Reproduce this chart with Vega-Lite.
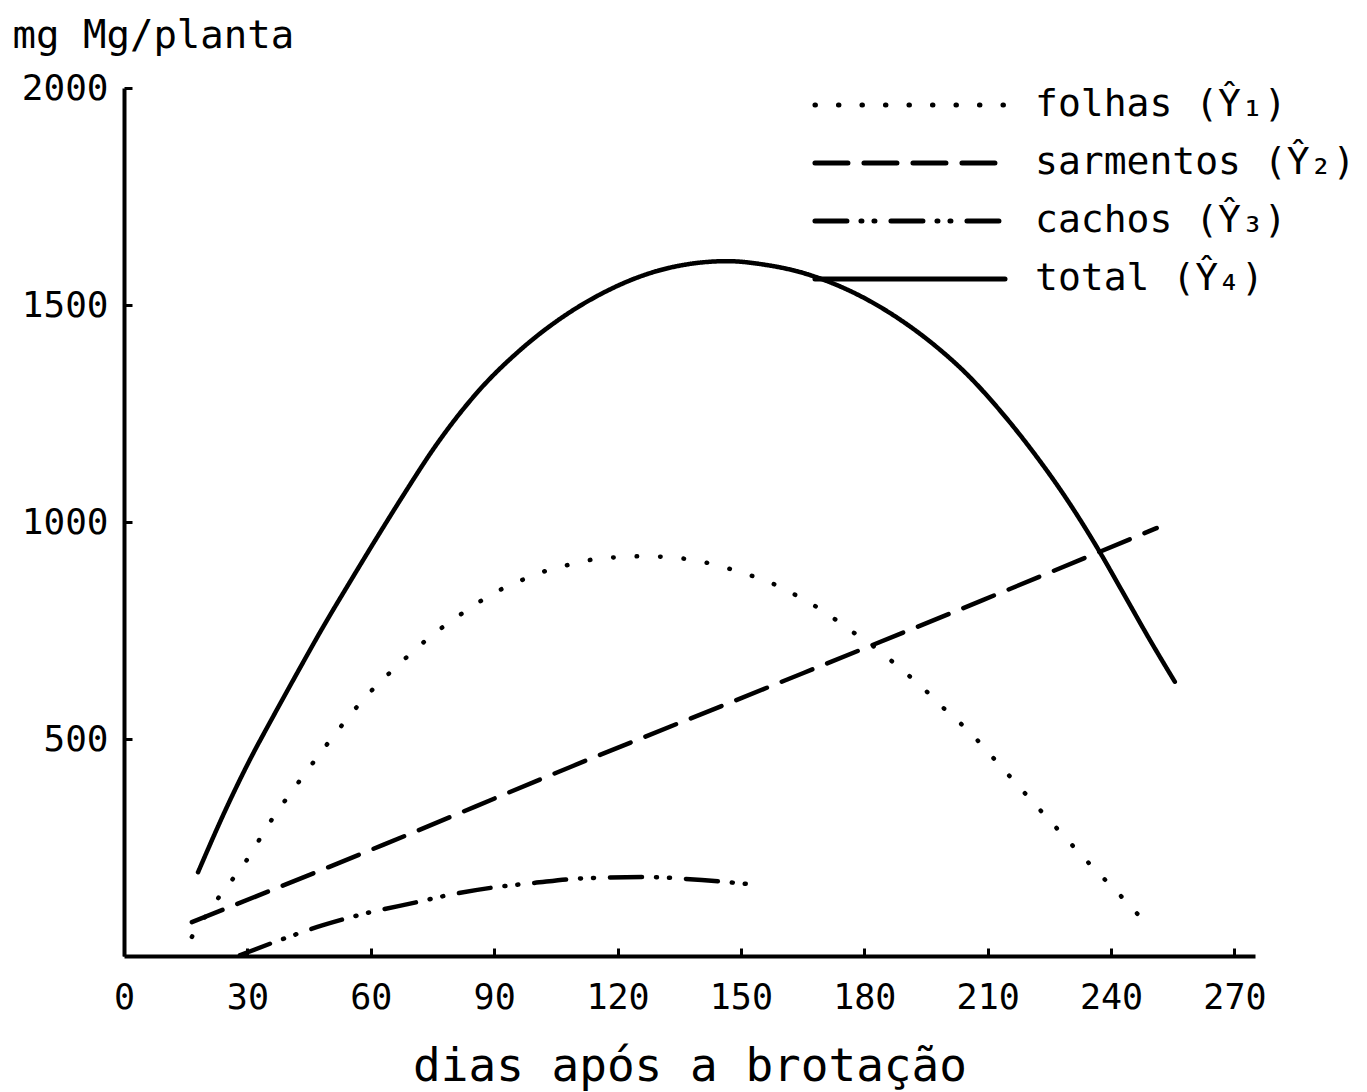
{
  "$schema": "https://vega.github.io/schema/vega-lite/v6.json",
  "width": 1131,
  "height": 868,
  "autosize": {"type": "none"},
  "padding": {"left": 124, "top": 88, "right": 112, "bottom": 136},
  "background": "white",
  "config": {
    "view": {"stroke": null},
    "font": "DejaVu Sans Mono",
    "axis": {
      "grid": false,
      "domainColor": "black",
      "tickColor": "black",
      "labelColor": "black",
      "titleColor": "black",
      "labelFont": "DejaVu Sans Mono",
      "titleFont": "DejaVu Sans Mono",
      "labelFontWeight": "normal",
      "titleFontWeight": "normal",
      "domainWidth": 4,
      "tickWidth": 3
    }
  },
  "data": {
    "values": [
      {"serie": "folhas (Ŷ₁)", "dias": 16.5, "mg": 44},
      {"serie": "folhas (Ŷ₁)", "dias": 23.1, "mg": 136},
      {"serie": "folhas (Ŷ₁)", "dias": 29.7, "mg": 219},
      {"serie": "folhas (Ŷ₁)", "dias": 35.7, "mg": 311},
      {"serie": "folhas (Ŷ₁)", "dias": 42.1, "mg": 396},
      {"serie": "folhas (Ŷ₁)", "dias": 49.8, "mg": 493},
      {"serie": "folhas (Ŷ₁)", "dias": 54.2, "mg": 546},
      {"serie": "folhas (Ŷ₁)", "dias": 58.1, "mg": 590},
      {"serie": "folhas (Ŷ₁)", "dias": 62.0, "mg": 629},
      {"serie": "folhas (Ŷ₁)", "dias": 66.4, "mg": 668},
      {"serie": "folhas (Ŷ₁)", "dias": 71.5, "mg": 712},
      {"serie": "folhas (Ŷ₁)", "dias": 77.8, "mg": 760},
      {"serie": "folhas (Ŷ₁)", "dias": 83.9, "mg": 800},
      {"serie": "folhas (Ŷ₁)", "dias": 89.9, "mg": 836},
      {"serie": "folhas (Ŷ₁)", "dias": 96.7, "mg": 866},
      {"serie": "folhas (Ŷ₁)", "dias": 103.1, "mg": 889},
      {"serie": "folhas (Ŷ₁)", "dias": 108.9, "mg": 903},
      {"serie": "folhas (Ŷ₁)", "dias": 114.2, "mg": 914},
      {"serie": "folhas (Ŷ₁)", "dias": 120.3, "mg": 919},
      {"serie": "folhas (Ŷ₁)", "dias": 125.9, "mg": 921},
      {"serie": "folhas (Ŷ₁)", "dias": 133.7, "mg": 918},
      {"serie": "folhas (Ŷ₁)", "dias": 139.8, "mg": 910},
      {"serie": "folhas (Ŷ₁)", "dias": 145.8, "mg": 896},
      {"serie": "folhas (Ŷ₁)", "dias": 151.4, "mg": 880},
      {"serie": "folhas (Ŷ₁)", "dias": 157.5, "mg": 859},
      {"serie": "folhas (Ŷ₁)", "dias": 161.6, "mg": 840},
      {"serie": "folhas (Ŷ₁)", "dias": 167.2, "mg": 811},
      {"serie": "folhas (Ŷ₁)", "dias": 170.9, "mg": 789},
      {"serie": "folhas (Ŷ₁)", "dias": 177.0, "mg": 748},
      {"serie": "folhas (Ŷ₁)", "dias": 181.6, "mg": 718},
      {"serie": "folhas (Ŷ₁)", "dias": 185.7, "mg": 687},
      {"serie": "folhas (Ŷ₁)", "dias": 190.1, "mg": 652},
      {"serie": "folhas (Ŷ₁)", "dias": 194.2, "mg": 618},
      {"serie": "folhas (Ŷ₁)", "dias": 199.3, "mg": 571},
      {"serie": "folhas (Ŷ₁)", "dias": 205.4, "mg": 518},
      {"serie": "folhas (Ŷ₁)", "dias": 212.9, "mg": 440},
      {"serie": "folhas (Ŷ₁)", "dias": 220.2, "mg": 363},
      {"serie": "folhas (Ŷ₁)", "dias": 227.5, "mg": 287},
      {"serie": "folhas (Ŷ₁)", "dias": 234.8, "mg": 212},
      {"serie": "folhas (Ŷ₁)", "dias": 242.1, "mg": 141},
      {"serie": "folhas (Ŷ₁)", "dias": 249.4, "mg": 66},
      {"serie": "sarmentos (Ŷ₂)", "dias": 16.5, "mg": 78},
      {"serie": "sarmentos (Ŷ₂)", "dias": 63.0, "mg": 256},
      {"serie": "sarmentos (Ŷ₂)", "dias": 108.4, "mg": 435},
      {"serie": "sarmentos (Ŷ₂)", "dias": 156.3, "mg": 618},
      {"serie": "sarmentos (Ŷ₂)", "dias": 208.8, "mg": 820},
      {"serie": "sarmentos (Ŷ₂)", "dias": 251.1, "mg": 986},
      {"serie": "cachos (Ŷ₃)", "dias": 28.2, "mg": 2},
      {"serie": "cachos (Ŷ₃)", "dias": 38.6, "mg": 39},
      {"serie": "cachos (Ŷ₃)", "dias": 48.4, "mg": 71},
      {"serie": "cachos (Ŷ₃)", "dias": 59.1, "mg": 99},
      {"serie": "cachos (Ŷ₃)", "dias": 71.2, "mg": 124},
      {"serie": "cachos (Ŷ₃)", "dias": 79.2, "mg": 141},
      {"serie": "cachos (Ŷ₃)", "dias": 90.7, "mg": 159},
      {"serie": "cachos (Ŷ₃)", "dias": 99.4, "mg": 168},
      {"serie": "cachos (Ŷ₃)", "dias": 111.6, "mg": 179},
      {"serie": "cachos (Ŷ₃)", "dias": 126.2, "mg": 182},
      {"serie": "cachos (Ŷ₃)", "dias": 140.5, "mg": 175},
      {"serie": "cachos (Ŷ₃)", "dias": 153.6, "mg": 164},
      {"serie": "total (Ŷ₄)", "dias": 18.0, "mg": 193},
      {"serie": "total (Ŷ₄)", "dias": 25.0, "mg": 343},
      {"serie": "total (Ŷ₄)", "dias": 30.6, "mg": 452},
      {"serie": "total (Ŷ₄)", "dias": 35.7, "mg": 542},
      {"serie": "total (Ŷ₄)", "dias": 42.1, "mg": 652},
      {"serie": "total (Ŷ₄)", "dias": 48.4, "mg": 758},
      {"serie": "total (Ŷ₄)", "dias": 55.2, "mg": 866},
      {"serie": "total (Ŷ₄)", "dias": 62.2, "mg": 975},
      {"serie": "total (Ŷ₄)", "dias": 67.8, "mg": 1060},
      {"serie": "total (Ŷ₄)", "dias": 76.1, "mg": 1180},
      {"serie": "total (Ŷ₄)", "dias": 86.5, "mg": 1305},
      {"serie": "total (Ŷ₄)", "dias": 96.3, "mg": 1396},
      {"serie": "total (Ŷ₄)", "dias": 106.0, "mg": 1468},
      {"serie": "total (Ŷ₄)", "dias": 115.7, "mg": 1524},
      {"serie": "total (Ŷ₄)", "dias": 128.1, "mg": 1574},
      {"serie": "total (Ŷ₄)", "dias": 135.9, "mg": 1592},
      {"serie": "total (Ŷ₄)", "dias": 146.6, "mg": 1601},
      {"serie": "total (Ŷ₄)", "dias": 156.3, "mg": 1592},
      {"serie": "total (Ŷ₄)", "dias": 164.3, "mg": 1576},
      {"serie": "total (Ŷ₄)", "dias": 172.3, "mg": 1550},
      {"serie": "total (Ŷ₄)", "dias": 180.6, "mg": 1513},
      {"serie": "total (Ŷ₄)", "dias": 188.6, "mg": 1467},
      {"serie": "total (Ŷ₄)", "dias": 196.6, "mg": 1411},
      {"serie": "total (Ŷ₄)", "dias": 204.9, "mg": 1341},
      {"serie": "total (Ŷ₄)", "dias": 212.9, "mg": 1258},
      {"serie": "total (Ŷ₄)", "dias": 221.0, "mg": 1162},
      {"serie": "total (Ŷ₄)", "dias": 229.2, "mg": 1053},
      {"serie": "total (Ŷ₄)", "dias": 236.5, "mg": 943},
      {"serie": "total (Ŷ₄)", "dias": 242.8, "mg": 839},
      {"serie": "total (Ŷ₄)", "dias": 249.4, "mg": 729},
      {"serie": "total (Ŷ₄)", "dias": 255.5, "mg": 632}
    ]
  },
  "mark": {
    "type": "line",
    "color": "black",
    "strokeWidth": 4.5,
    "strokeCap": "round",
    "interpolate": "monotone"
  },
  "encoding": {
    "x": {
      "field": "dias",
      "type": "quantitative",
      "scale": {"domain": [0, 275], "nice": false, "zero": false},
      "axis": {
        "values": [0, 30, 60, 90, 120, 150, 180, 210, 240, 270],
        "title": "dias após a brotação",
        "titleFontSize": 46,
        "titleY": 124,
        "titleBaseline": "alphabetic",
        "labelFontSize": 35,
        "tickSize": -8,
        "labelPadding": 32,
        "labelFlush": false,
        "labelOverlap": false
      }
    },
    "y": {
      "field": "mg",
      "type": "quantitative",
      "scale": {"domain": [0, 2000], "nice": false},
      "axis": {
        "values": [500, 1000, 1500, 2000],
        "format": "d",
        "title": "mg Mg/planta",
        "titleAngle": 0,
        "titleAlign": "left",
        "titleBaseline": "alphabetic",
        "titleX": -112,
        "titleY": -41,
        "titleFontSize": 39,
        "labelFontSize": 36,
        "tickSize": -8,
        "labelPadding": 24,
        "labelFlush": false,
        "labelOverlap": false
      }
    },
    "strokeDash": {
      "field": "serie",
      "type": "nominal",
      "scale": {
        "domain": ["folhas (Ŷ₁)", "sarmentos (Ŷ₂)", "cachos (Ŷ₃)", "total (Ŷ₄)"],
        "range": [[0.5, 23], [33, 16], [32, 14, 1, 12, 1, 16], [1, 0]]
      },
      "legend": {
        "title": null,
        "orient": "none",
        "legendX": 865,
        "legendY": -2,
        "padding": 0,
        "symbolType": "M-11.7,0H-0.18",
        "symbolSize": 1089,
        "symbolStrokeWidth": 5,
        "symbolStrokeColor": "black",
        "symbolFillColor": "transparent",
        "labelFontSize": 38,
        "labelFont": "DejaVu Sans Mono",
        "labelColor": "black",
        "labelOffset": 8,
        "labelLimit": 0,
        "rowPadding": 20,
        "encode": {"symbols": {"update": {"strokeCap": {"value": "round"}}}}
      }
    }
  }
}
